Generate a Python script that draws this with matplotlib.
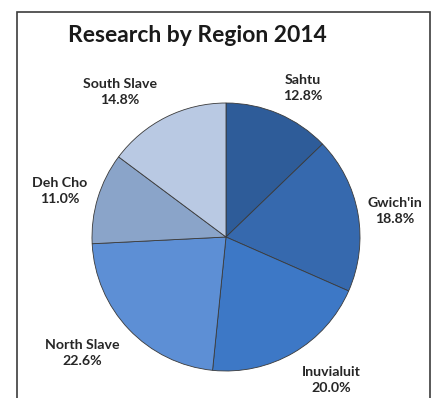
import matplotlib
matplotlib.use("Agg")
import matplotlib.pyplot as plt
from matplotlib.patches import Rectangle

# research share by region, clockwise from 12 o'clock
regions = ["Sahtu", "Gwich'in", "Inuvialuit", "North Slave", "Deh Cho", "South Slave"]
shares = [12.8, 18.8, 20.0, 22.6, 11.0, 14.8]
colors = ["#2e5c99", "#3669ae", "#3d78c6", "#5d8fd5", "#8aa4c9", "#b9c9e3"]

# label block centres in pixel space (x, y from top)
label_xy = [(303, 88), (395, 211), (331, 380), (82, 353), (60, 191), (120, 92)]

W, H = 438, 398
fig = plt.figure(figsize=(W / 100, H / 100), dpi=100)
ax = fig.add_axes([0, 0, 1, 1])

cx, cy, R = 226, 237, 134
ax.pie(shares, colors=colors, startangle=90, counterclock=False,
       center=(cx, H - cy), radius=R,
       wedgeprops=dict(edgecolor="#3a3a3a", linewidth=0.6))
ax.set_xlim(0, W)
ax.set_ylim(0, H)
ax.set_aspect("equal")
ax.axis("off")

# outer frame, open at the bottom edge of the image
ax.add_patch(Rectangle((17, -20), 413, H - 12 + 20, fill=False,
                       edgecolor="#3c3c3c", linewidth=1.2, zorder=5))

font = "Lato"
ax.text(197, H - 35, "Research by Region 2014", ha="center", va="center",
        fontsize=16.5, fontweight="bold", family=font, color="#1a1a1a")

for name, val, (lx, ly) in zip(regions, shares, label_xy):
    ax.text(lx, H - ly, f"{name}\n{val:.1f}%", ha="center", va="center",
            fontsize=10.2, fontweight="bold", family=font, color="#262626",
            linespacing=1.35)

fig.savefig("out.png", dpi=100)
